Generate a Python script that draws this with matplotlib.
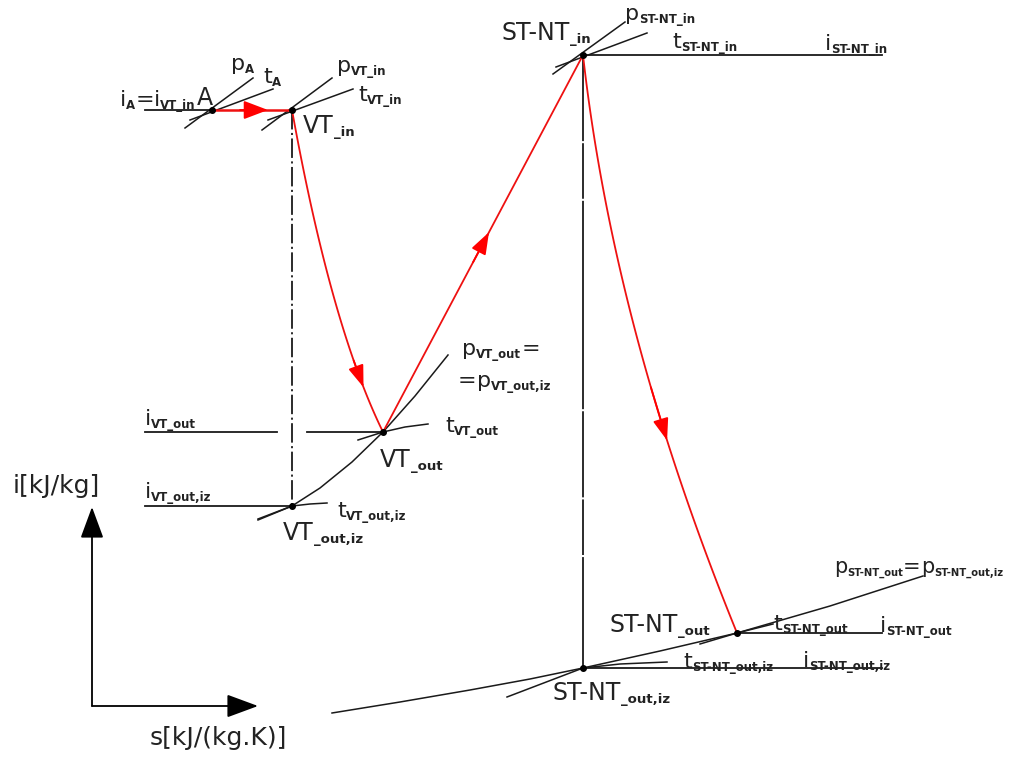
import numpy as np
import matplotlib.pyplot as plt

plt.rcParams['font.family'] = 'DejaVu Sans'
plt.rcParams['lines.scale_dashes'] = False

# state points of the i-s sketch (canvas units, y measured downwards)
names = ['A', 'VT_in', 'VT_out', 'VT_out_iz', 'ST_in', 'ST_out', 'ST_out_iz']
s_pos = [212, 292, 383, 292, 583, 737, 583]
y_pos = [110, 110, 432, 506, 55, 633, 668]
P = dict(zip(names, zip(s_pos, y_pos)))

# isobars and isotherms sketched through the points
p_A = [(185, 128), (253, 78)]
t_A = [(190, 120), (273, 89)]
p_VT_in = [(262, 130), (332, 78)]
t_VT_in = [(268, 120), (353, 89)]
p_ST_in = [(553, 74), (625, 22)]
t_ST_in = [(556, 67), (647, 33)]
p_VT_out = [(258, 520), (292, 506), (320, 488), (352, 462), (383, 432),
            (415, 396), (448, 355)]
t_VT_out = [(358, 440), (383, 432), (405, 427), (428, 424)]
t_VT_iz = [(258, 519), (292, 506), (310, 504), (327, 503)]
p_ST_out = [(332, 713), (400, 702), (470, 690), (530, 679), (583, 668),
            (660, 651), (737, 633), (830, 606), (923, 576)]
t_ST_out = [(700, 644), (737, 633), (773, 624)]
t_ST_iz = [(507, 697), (583, 668), (620, 664), (667, 662)]

# isenthalps (horizontal lines)
i_lines = [[(145, 110), (212, 110)],
           [(583, 55), (882, 55)],
           [(145, 432), (277, 432)],
           [(307, 432), (383, 432)],
           [(145, 506), (292, 506)],
           [(737, 633), (882, 633)],
           [(583, 668), (882, 668)]]

# control points for the bent expansion lines
ctrl_VT = (331, 326)
ctrl_ST = (614, 331)

# labels: left x, baseline y, [(text, is_subscript)], size
labels = [
    (120, 106, [('i', 0), ('A', 1), ('=', 0), ('i', 0), ('VT_in', 1)], 16),
    (197, 105, [('A', 0)], 17),
    (231, 70, [('p', 0), ('A', 1)], 16),
    (263, 83, [('t', 0), ('A', 1)], 16),
    (337, 72, [('p', 0), ('VT_in', 1)], 16),
    (358, 101, [('t', 0), ('VT_in', 1)], 16),
    (303, 133, [('VT', 0), ('_in', 1)], 17),
    (502, 40, [('ST-NT', 0), ('_in', 1)], 17),
    (625, 20, [('p', 0), ('ST-NT_in', 1)], 16),
    (672, 48, [('t', 0), ('ST-NT_in', 1)], 16),
    (825, 50, [('i', 0), ('ST-NT_in', 1)], 16),
    (462, 355, [('p', 0), ('VT_out', 1), ('=', 0)], 16),
    (458, 387, [('=', 0), ('p', 0), ('VT_out,iz', 1)], 16),
    (145, 425, [('i', 0), ('VT_out', 1)], 16),
    (445, 432, [('t', 0), ('VT_out', 1)], 16),
    (380, 467, [('VT', 0), ('_out', 1)], 17),
    (145, 498, [('i', 0), ('VT_out,iz', 1)], 16),
    (337, 517, [('t', 0), ('VT_out,iz', 1)], 16),
    (283, 540, [('VT', 0), ('_out,iz', 1)], 17),
    (834, 573, [('p', 0), ('ST-NT_out', 1), ('=', 0), ('p', 0), ('ST-NT_out,iz', 1)], 15),
    (610, 632, [('ST-NT', 0), ('_out', 1)], 17),
    (773, 630, [('t', 0), ('ST-NT_out', 1)], 16),
    (880, 632, [('i', 0), ('ST-NT_out', 1)], 16),
    (683, 668, [('t', 0), ('ST-NT_out,iz', 1)], 16),
    (803, 667, [('i', 0), ('ST-NT_out,iz', 1)], 16),
    (553, 700, [('ST-NT', 0), ('_out,iz', 1)], 17),
    (13, 493, [('i[kJ/kg]', 0)], 18),
    (150, 745, [('s[kJ/(kg.K)]', 0)], 18),
]


def bezier(p0, c, p2, n=100):
    t = np.linspace(0, 1, n)[:, None]
    p0, c, p2 = np.array(p0), np.array(c), np.array(p2)
    return (1 - t) ** 2 * p0 + 2 * t * (1 - t) * c + t ** 2 * p2


def head(ax, tail, tip, color='red', hl=0.9, hw=0.32):
    ax.annotate('', xy=tip, xytext=tail,
                arrowprops=dict(arrowstyle='-|>,head_length=%s,head_width=%s' % (hl, hw),
                                color=color, lw=1.3, shrinkA=0, shrinkB=0,
                                mutation_scale=15))


def draw_label(ax, x, y, parts, size):
    prev = None
    subsize = 8.5 if size >= 16 else 7.2
    for txt, sub in parts:
        fs = subsize if sub else size
        fw = 'bold' if sub else 'normal'
        yy = y + 3 if sub else y
        if sub and txt.startswith('_'):
            fs = 9.5
        if prev is None:
            prev = ax.text(x, yy, txt, fontsize=fs, fontweight=fw,
                           ha='left', va='baseline', color='#222222')
        else:
            prev = ax.annotate(txt, xy=(1, yy), xycoords=(prev, 'data'),
                               fontsize=fs, fontweight=fw, ha='left',
                               va='baseline', color='#222222')


fig = plt.figure(figsize=(10.2, 7.58), dpi=100)
ax = fig.add_axes([0, 0, 1, 1])
ax.set_xlim(0, 1020)
ax.set_ylim(758, 0)
ax.axis('off')

lw = 1.3
k = '#1a1a1a'

# isenthalps
for seg in i_lines:
    xs, ys = zip(*seg)
    ax.plot(xs, ys, color=k, lw=lw)

# isobars / isotherms
for curve in [p_A, t_A, p_VT_in, t_VT_in, p_ST_in, t_ST_in, p_VT_out,
              t_VT_out, t_VT_iz, p_ST_out, t_ST_out, t_ST_iz]:
    xs, ys = zip(*curve)
    ax.plot(xs, ys, color=k, lw=1.1)

# isentropes
ax.plot([P['VT_in'][0], P['VT_out_iz'][0]], [P['VT_in'][1], P['VT_out_iz'][1]],
        color=k, lw=lw, linestyle=(0, (14, 2.5, 1.5, 2.5)))
ax.plot([P['ST_in'][0], P['ST_out_iz'][0]], [P['ST_in'][1], P['ST_out_iz'][1]],
        color=k, lw=lw, linestyle=(0, (62, 1.5, 40, 1.5, 150, 1.5)))

# process lines (red)
red = '#ee1111'
ax.plot([P['A'][0], P['VT_in'][0]], [P['A'][1], P['VT_in'][1]], color=red, lw=1.8)
head(ax, (240, 110), (268, 110), hl=1.0, hw=0.38)

vt = bezier(P['VT_in'], ctrl_VT, P['VT_out'])
ax.plot(vt[:, 0], vt[:, 1], color=red, lw=lw)
head(ax, vt[70], vt[80])

a = np.array(P['VT_out'])
b = np.array(P['ST_in'])
ax.plot([a[0], b[0]], [a[1], b[1]], color=red, lw=lw)
head(ax, a + 0.45 * (b - a), a + 0.53 * (b - a))

st = bezier(P['ST_in'], ctrl_ST, P['ST_out'])
ax.plot(st[:, 0], st[:, 1], color=red, lw=lw)
head(ax, st[58], st[67])

# state points
ax.plot(s_pos, y_pos, 'o', ms=4, color='black', zorder=5)

# axis arrows
head(ax, (92, 706), (92, 507), color='black', hl=1.3, hw=0.48)
head(ax, (92, 706), (258, 706), color='black', hl=1.3, hw=0.48)

for x, y, parts, size in labels:
    draw_label(ax, x, y, parts, size)

fig.savefig('out.png', dpi=100)
